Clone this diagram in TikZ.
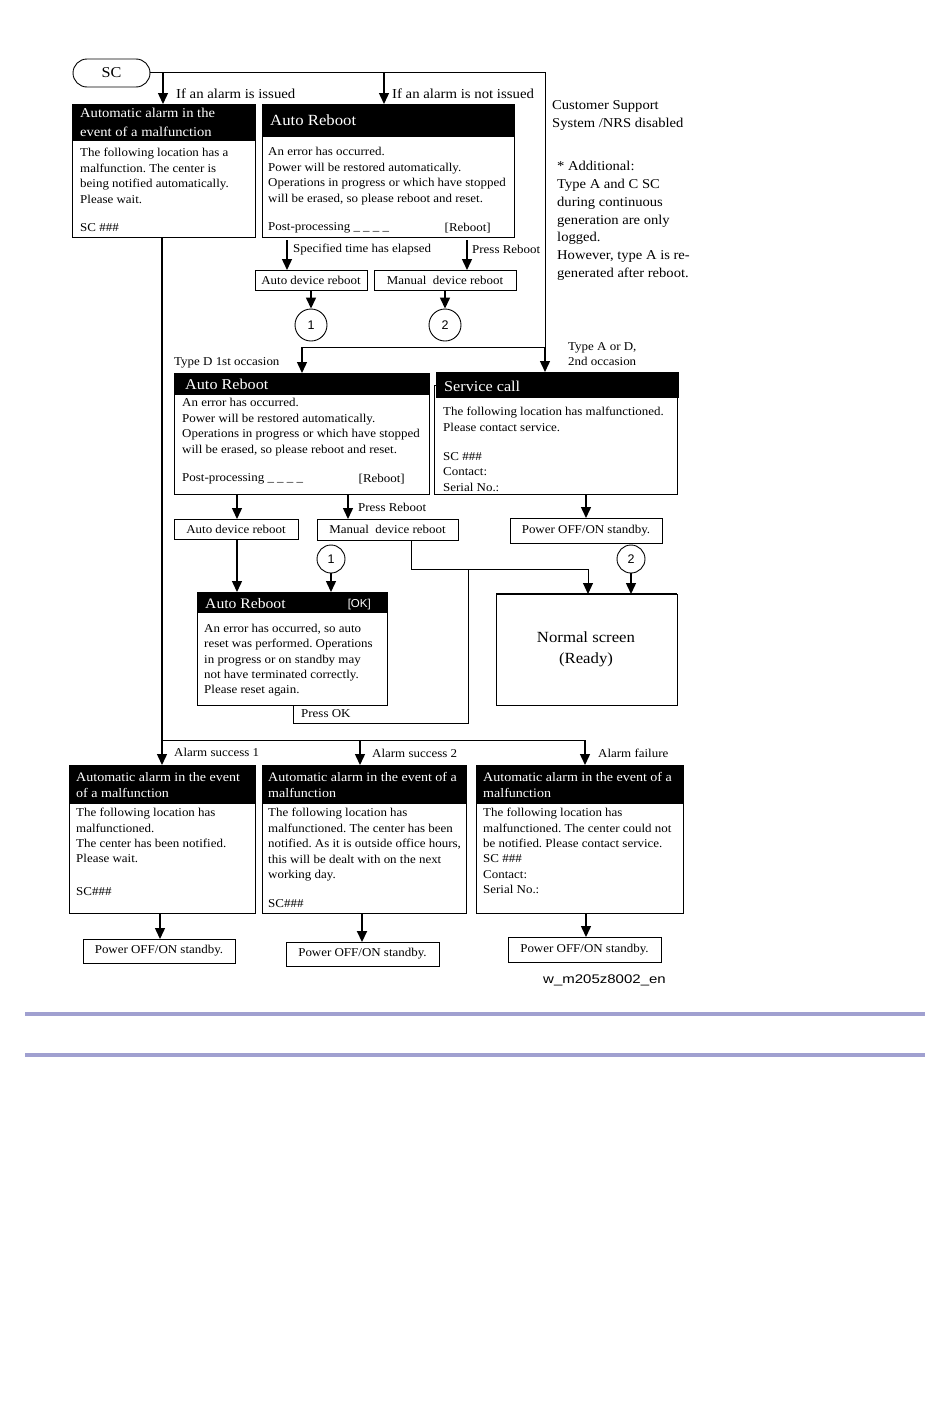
\documentclass[tikz,border=0pt]{standalone}
\usepackage{fontspec}
\setmainfont{Liberation Serif}[FakeStretch=1.08]
\newfontfamily\sansf{Liberation Sans}
\newfontfamily\sansw{Liberation Sans}[FakeStretch=1.2]
\usetikzlibrary{arrows.meta}
\definecolor{lav}{RGB}{160,160,208}
\frenchspacing
\begin{document}
\begin{tikzpicture}[x=1pt,y=-1pt,
 box/.style={draw, line width=0.9pt, anchor=north west, inner sep=0pt, outer sep=0pt},
 hdr/.style={fill=black, anchor=north west, inner sep=0pt, outer sep=0pt},
 ht/.style={text=white, anchor=north west, inner sep=0pt, align=left, font=\fontsize{13.5}{19}\selectfont},
 hb/.style={text=white, anchor=west, inner sep=0pt, font=\fontsize{15.5}{18}\selectfont},
 bt/.style={anchor=north west, inner sep=0pt, align=left, font=\fontsize{12}{15.5}\selectfont},
 bl/.style={anchor=west, inner sep=0pt, font=\fontsize{12}{14}\selectfont},
 lbl/.style={anchor=west, inner sep=0pt, font=\fontsize{12}{14}\selectfont},
 sbox/.style={box, font=\fontsize{12}{14}\selectfont},
 circ/.style={draw, circle, line width=0.9pt, inner sep=0pt, font=\sansf\fontsize{12.5}{14}\selectfont},
 arr/.style={line width=1.4pt, -{Triangle[width=10pt,length=11pt]}},
 ln/.style={line width=1pt},
]
\useasboundingbox (0,0) rectangle (950,1408);

% ---------- SC ----------
\node[draw, line width=0.9pt, rounded corners=14pt, minimum width=77pt, minimum height=28pt, inner sep=0pt, font=\fontsize{15}{17}\selectfont] (sc) at (111.5,73) {SC};

% ---------- top-left alarm box ----------
\node[box, minimum width=183pt, minimum height=133pt] (A1) at (72,104) {};
\node[hdr, minimum width=183pt, minimum height=37pt] (A1h) at (72,104) {};
\node[ht] (A1ht) at (80,107.5) {Automatic alarm in the\\event of a malfunction};
\node[bt] (A1b) at (80,148) {The following location has a\\malfunction. The center is\\being notified automatically.\\Please wait.};
\node[bl] (A1sc) at (80,228) {SC \#\#\#};

% ---------- Auto Reboot 1 ----------
\node[box, minimum width=252pt, minimum height=133pt] (AR1) at (262,104) {};
\node[hdr, minimum width=252pt, minimum height=33pt] (AR1h) at (262,104) {};
\node[hb] (AR1ht) at (270,120) {Auto Reboot};
\node[bt] (AR1b) at (268,147) {An error has occurred.\\Power will be restored automatically.\\Operations in progress or which have stopped\\will be erased, so please reboot and reset.};
\node[bl] (AR1pp) at (268,228) {Post-processing \_ \_ \_ \_};
\node[bl, anchor=east] (AR1rb) at (491,228) {[Reboot]};

\node[sbox, minimum width=112pt, minimum height=20pt] (adr1) at (255,270) {Auto device reboot};
\node[sbox, minimum width=142pt, minimum height=20pt] (mdr1) at (374,270) {Manual\ \ device reboot};
\node[circ, minimum size=32pt] (k1) at (311,325) {1};
\node[circ, minimum size=32pt] (k2) at (445,325) {2};

% ---------- right notes ----------
\node[anchor=north west, inner sep=0pt, align=left, font=\fontsize{13.5}{18}\selectfont] (note1) at (552,100) {Customer Support\\System /NRS disabled};
\node[anchor=north west, inner sep=0pt, align=left, font=\fontsize{13.5}{17.85}\selectfont] (note2) at (557,161) {* Additional:\\Type A and C SC\\during continuous\\generation are only\\logged.\\However, type A is re-\\generated after reboot.};

% ---------- Auto Reboot 2 ----------
\node[box, minimum width=255pt, minimum height=121pt] (AR2) at (174,373) {};
\node[hdr, minimum width=255pt, minimum height=22pt] (AR2h) at (174,373) {};
\node[hb, font=\fontsize{15}{18}\selectfont] (AR2ht) at (185,384) {Auto Reboot};
\node[bt, font=\fontsize{12}{15.7}\selectfont] (AR2b) at (182,398) {An error has occurred.\\Power will be restored automatically.\\Operations in progress or which have stopped\\will be erased, so please reboot and reset.};
\node[bl] (AR2pp) at (182,479) {Post-processing \_ \_ \_ \_};
\node[bl, anchor=east] (AR2rb) at (405,479) {[Reboot]};

% ---------- Service call ----------
\node[box, minimum width=243pt, minimum height=109pt] (SCb) at (434,385) {};
\node[hdr, minimum width=243pt, minimum height=26pt] (SCh) at (436,372) {};
\node[hb, font=\fontsize{15}{18}\selectfont] (SCht) at (444,386) {Service call};
\node[bt] (SCt) at (443,407) {The following location has malfunctioned.\\Please contact service.\\[13.5pt]SC \#\#\#\\Contact:\\Serial No.:};

\node[sbox, minimum width=124pt, minimum height=20pt] (adr2) at (174,519) {Auto device reboot};
\node[sbox, minimum width=141pt, minimum height=21pt] (mdr2) at (317,519) {Manual\ \ device reboot};
\node[sbox, minimum width=152pt, minimum height=25pt] (psb1) at (510,518) {Power OFF/ON standby.};
\node[circ, minimum size=28pt] (k1b) at (331,559) {1};
\node[circ, minimum size=28pt] (k2b) at (631,559) {2};

% ---------- Auto Reboot 3 ----------
\node[box, minimum width=190pt, minimum height=113pt] (AR3) at (197,592) {};
\node[hdr, minimum width=190pt, minimum height=21pt] (AR3h) at (197,592) {};
\node[hb, font=\fontsize{14.5}{18}\selectfont] (AR3ht) at (205,604) {Auto Reboot};
\node[hb, anchor=east, font=\sansf\fontsize{11.5}{13}\selectfont] (AR3ok) at (371,605) {[OK]};
\node[bt, font=\fontsize{12}{15.3}\selectfont] (AR3b) at (204,624) {An error has occurred, so auto\\reset was performed. Operations\\in progress or on standby may\\not have terminated correctly.\\Please reset again.};

% ---------- Normal screen ----------
\node[box, minimum width=181pt, minimum height=111pt] (NS) at (496,594) {};
\draw[line width=2.2pt] (NS.north west) -- (NS.north east);
\node[inner sep=0pt, align=center, font=\fontsize{15.5}{21}\selectfont] (NSt) at (586,649) {Normal screen\\(Ready)};

% ---------- bottom boxes ----------
\node[box, minimum width=186pt, minimum height=148pt] (B1) at (69,765) {};
\node[hdr, minimum width=186pt, minimum height=39pt] (B1h) at (69,765) {};
\node[ht, font=\fontsize{13}{16}\selectfont] (B1ht) at (76,772.5) {Automatic alarm in the event\\of a malfunction};
\node[bt, font=\fontsize{12}{15.4}\selectfont] (B1b) at (76,808) {The following location has\\malfunctioned.\\The center has been notified.\\Please wait.};
\node[bl] (B1sc) at (76,892) {SC\#\#\#};

\node[box, minimum width=204pt, minimum height=148pt] (B2) at (262,765) {};
\node[hdr, minimum width=204pt, minimum height=39pt] (B2h) at (262,765) {};
\node[ht, font=\fontsize{13}{16}\selectfont] (B2ht) at (268,772.5) {Automatic alarm in the event of a\\malfunction};
\node[bt, font=\fontsize{12}{15.5}\selectfont] (B2b) at (268,808) {The following location has\\malfunctioned. The center has been\\notified. As it is outside office hours,\\this will be dealt with on the next\\working day.};
\node[bl] (B2sc) at (268,904) {SC\#\#\#};

\node[box, minimum width=207pt, minimum height=148pt] (B3) at (476,765) {};
\node[hdr, minimum width=207pt, minimum height=39pt] (B3h) at (476,765) {};
\node[ht, font=\fontsize{13}{16}\selectfont] (B3ht) at (483,772.5) {Automatic alarm in the event of a\\malfunction};
\node[bt, font=\fontsize{12}{15.4}\selectfont] (B3b) at (483,808) {The following location has\\malfunctioned. The center could not\\be notified. Please contact service.\\SC \#\#\#\\Contact:\\Serial No.:};

\node[sbox, minimum width=152pt, minimum height=24pt] (p1) at (83,939) {Power OFF/ON standby.};
\node[sbox, minimum width=153pt, minimum height=24pt] (p2) at (286,942) {Power OFF/ON standby.};
\node[sbox, minimum width=153pt, minimum height=25pt] (p3) at (508,937) {Power OFF/ON standby.};

\node[anchor=west, inner sep=0pt, font=\sansw\fontsize{12.5}{14}\selectfont] (code) at (543,980) {w\_m205z8002\_en};

% ---------- labels ----------
\node[lbl, font=\fontsize{13.7}{16}\selectfont] (l1) at (176,94) {If an alarm is issued};
\node[lbl, font=\fontsize{13.7}{16}\selectfont] (l2) at (392,94) {If an alarm is not issued};
\node[lbl] (l3) at (293,250) {Specified time has elapsed};
\node[lbl] (l4) at (472,249) {Press Reboot};
\node[lbl] (l5) at (174,363) {Type D 1st occasion};
\node[anchor=north west, inner sep=0pt, align=left, font=\fontsize{12}{15}\selectfont] (l6) at (568,342) {Type A or D,\\2nd occasion};
\node[lbl] (l7) at (358,507) {Press Reboot};
\node[lbl] (l8) at (301,714) {Press OK};
\node[lbl] (l9) at (174,752) {Alarm success 1};
\node[lbl] (l10) at (372,753) {Alarm success 2};
\node[lbl] (l11) at (598,753) {Alarm failure};

% ---------- connectors ----------
\coordinate (tr) at (545,72.5);
\coordinate (b1) at (163,72.5);
\coordinate (b2) at (384,72.5);
\coordinate (tr2) at (545,347);
\draw[ln] (sc.east |- tr) -- (tr) -- (tr2);
\draw[arr] (tr2) -- (tr2 |- SCh.north);
\draw[arr] (b1) -- (b1 |- A1.north);
\draw[arr] (b2) -- (b2 |- AR1.north);

\coordinate (x287) at (287,240);
\coordinate (x467) at (467,240);
\draw[arr] (x287) -- (x287 |- adr1.north);
\draw[arr] (x467) -- (x467 |- mdr1.north);
\draw[arr] (adr1.south) -- (adr1.south |- k1.north);
\draw[arr] (mdr1.south) -- (mdr1.south |- k2.north);

\coordinate (j2) at (302,347);
\draw[ln] (tr2) -- (j2);
\draw[arr] (j2) -- (j2 |- AR2.north);

\coordinate (x237) at (237,494);
\coordinate (x348) at (348,494);
\coordinate (x586) at (586,494);
\draw[arr] (x237) -- (x237 |- adr2.north);
\draw[arr] (x348) -- (x348 |- mdr2.north);
\draw[arr] (x586) -- (x586 |- psb1.north);

\draw[arr] (adr2.south -| x237) -- (x237 |- AR3.north);
\draw[arr] (k1b.south) -- (k1b.south |- AR3.north);
\draw[arr] (k2b.south) -- (k2b.south |- NS.north);

\coordinate (m0) at (411,540);
\coordinate (m1) at (411,569);
\coordinate (m2) at (588,569);
\draw[arr, line width=1pt] (m0) -- (m1) -- (m2) -- (m2 |- NS.north);
\coordinate (o0) at (293,705);
\coordinate (o1) at (293,723);
\coordinate (o2) at (468,723);
\coordinate (o3) at (468,569);
\draw[ln] (o0) -- (o1) -- (o2) -- (o3);

\coordinate (a0) at (162,237);
\coordinate (a1) at (162,740);
\coordinate (a2) at (360,740);
\coordinate (a3) at (585,740);
\draw[arr] (a0) -- (a0 |- B1.north);
\draw[ln] (a1) -- (a3);
\draw[arr] (a2) -- (a2 |- B2.north);
\draw[arr] (a3) -- (a3 |- B3.north);

\coordinate (d1) at (160,913);
\coordinate (d2) at (362,913);
\coordinate (d3) at (586,913);
\draw[arr] (d1) -- (d1 |- p1.north);
\draw[arr, line width=2pt] (d2) -- (d2 |- p2.north);
\draw[arr] (d3) -- (d3 |- p3.north);

% ---------- rules ----------
\draw[lav, line width=4pt] (25,1014) -- (925,1014);
\draw[lav, line width=4pt] (25,1055) -- (925,1055);
\end{tikzpicture}
\end{document}
